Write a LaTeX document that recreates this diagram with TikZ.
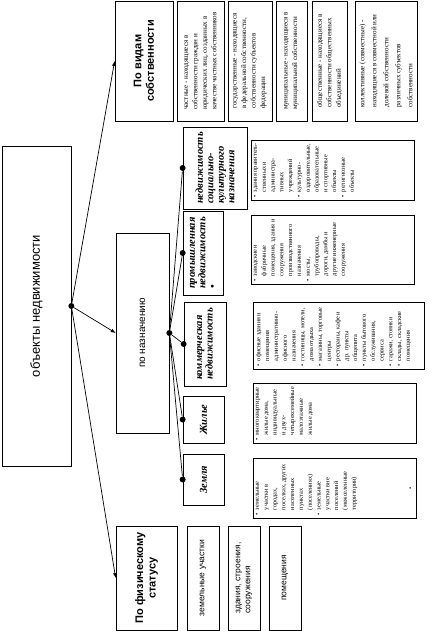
\documentclass[tikz,border=0pt]{standalone}
\usepackage{fontspec}
\setmainfont{Liberation Serif}
\setsansfont{Liberation Sans}

\newcommand{\descr}[3]{\parbox[c][#1][t]{#2}{\raggedright #3}}
\newcommand{\itm}{\par\hangindent=5pt\hangafter=1\noindent\makebox[5pt][l]{\textbullet}}

\begin{document}
\begin{tikzpicture}[x=1pt, y=-1pt, line width=0.7pt,
        box/.style = {draw, rotate=90, inner sep=2pt, align=center},
        main/.style = {box, font=\sffamily\bfseries\fontsize{11}{12.5}\selectfont},
        sub/.style = {box, align=left, font=\bfseries\itshape\fontsize{10.5}{10.5}\selectfont},
        desc/.style = {draw, rotate=90, inner sep=3pt, font=\fontsize{6.3}{8.8}\selectfont},
        kind/.style = {box, align=left, minimum width=120pt, font=\fontsize{7}{9.5}\selectfont},
        phys/.style = {box, align=left, minimum width=104pt, minimum height=32pt, font=\sffamily\fontsize{8.5}{10}\selectfont},
        dot/.style = {circle, fill, inner sep=0pt, minimum size=6pt}]
    \useasboundingbox (0,0) rectangle (435,631);

    % root and the three ways of dividing
    \node[main, font=\sffamily\fontsize{13}{14}\selectfont, minimum width=320pt, minimum height=69pt] (obj) at (36.5,306) {объекты недвижимости};
    \node[main, minimum width=120pt, minimum height=58pt] (vid) at (144,61) {По видам\\собственности};
    \node[main, font=\sffamily\fontsize{10}{12}\selectfont, minimum width=200pt, minimum height=53pt] (naz) at (142.5,333) {по назначению};
    \node[main, minimum width=104pt, minimum height=61pt] (fiz) at (146.5,578) {По физическому\\статусу};

    \node[dot] (dobj) at (obj.south) {};
    \node[dot] (dnaz) at (naz.south) {};

    \draw[-latex] (dobj) -- (vid.north);
    \draw[-latex] (dobj) -- (naz.north);
    \draw[-latex] (dobj) -- (fiz.north);

    % by ownership
    \node[kind, minimum height=47pt] (own1) at (200.5,61) {частные - находящиеся в\\собственности граждан и\\юридических лиц, созданных в\\качестве частных собственников};
    \node[kind, minimum height=44pt] (own2) at (250,61) {государственные - находящиеся\\в федеральной собственности,\\собственности субъектов\\федерации};
    \node[kind, minimum height=31pt] (own3) at (291.5,61) {муниципальные - находящиеся в\\муниципальной собственности};
    \node[kind, minimum height=35pt] (own4) at (329.5,61) {общественные - находящиеся в\\собственности общественных\\объединений};
    \node[kind, minimum height=62pt, font=\fontsize{7}{12}\selectfont] (own5) at (386,61) {коллективные (совместные) -\\находящиеся в совместной или\\долевой собственности\\различных субъектов\\собственности};

    % by purpose
    \node[sub, minimum width=82pt, minimum height=64pt] (soc) at (215,168) {недвижимость\\социально-\\культурного\\назначения};
    \node[sub, minimum width=84pt, minimum height=40pt] (prom) at (203,253) {промышленная\\недвижимость\\\textbullet};
    \node[sub, minimum width=84pt, minimum height=42pt] (kom) at (205,344) {коммерческая\\недвижимость};
    \node[sub, minimum width=47pt, minimum height=41pt] (zhil) at (203.5,419.5) {Жилье};
    \node[sub, minimum width=51pt, minimum height=41pt] (zem) at (203.5,479.5) {Земля};

    \node[dot] (dsoc) at (soc.north) {};
    \node[dot] (dprom) at (prom.north) {};
    \node[dot] (dkom) at (kom.north) {};
    \node[dot] (dzhil) at (zhil.north) {};
    \node[dot] (dzem) at (zem.north) {};

    \draw (dnaz) -- (dsoc);
    \draw (dnaz) -- (dprom);
    \draw (dnaz) -- (dkom);
    \draw (dnaz) -- (dzhil);
    \draw (dnaz) -- (dzem);

    \node[desc] (socd) at (332.5,170) {\descr{157pt}{54pt}{%
        \itm здания правитель\-ственных и администра\-тивных учреждений
        \itm культурно-оздорови\-тельные, образова\-тельные и спортивные объекты
        \itm религиозные объекты}};
    \node[desc] (promd) at (332.5,249.5) {\descr{157pt}{63pt}{%
        \itm заводские и фабричные помещения, здания и сооружения производствен\-ного назначения
        \itm мосты, трубопроводы, дороги, дамбы и другие инженерные сооружения}};
    \node[desc] (komd) at (338.5,335.5) {\descr{165pt}{61pt}{%
        \itm офисные здания и помещения административно-офисного назначения
        \itm гостиницы, мотели, дома отдыха
        \itm магазины, торговые центры
        \itm рестораны, кафе и др. пункты общепита
        \itm пункты бытового обслуживания, сервиса
        \itm гаражи, стоянки
        \itm склады, складские помещения}};
    \node[desc] (zhild) at (334.5,413) {\descr{157pt}{54pt}{%
        \itm многоквартирные жилые дома, индивидуальные и двух-четырехсемейные малоэтажные жилые дома}};
    \node[desc] (zemd) at (334.5,488) {\descr{157pt}{54pt}{%
        \itm земельные участки в городах, поселках, других населенных пунктах (поселениях)
        \itm земельные участки вне поселений (межселенные территории)}};
    \node[rotate=90, inner sep=0pt, font=\fontsize{6.3}{8}\selectfont] (zemdot) at (411,488) {\textbullet};

    % by physical status
    \node[phys] (ph1) at (203,578) {земельные участки};
    \node[phys] (ph2) at (244,578) {здания, строения,\\сооружения};
    \node[phys] (ph3) at (285,578) {помещения};

\end{tikzpicture}
\end{document}
